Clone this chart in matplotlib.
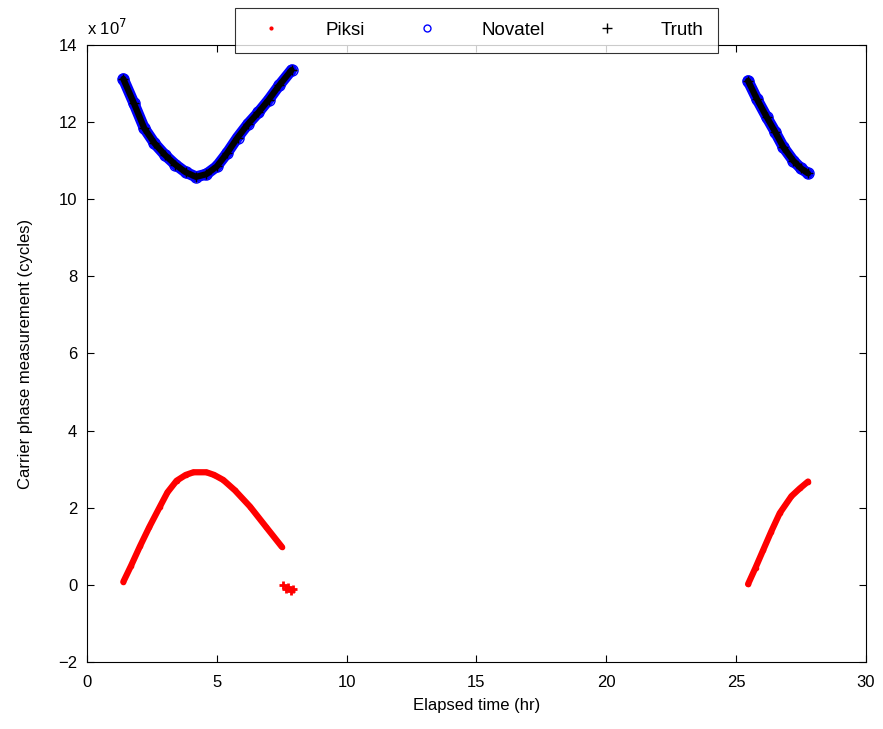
import matplotlib
matplotlib.use('Agg')
import matplotlib.pyplot as plt
from matplotlib.lines import Line2D

plt.rcParams['font.family'] = ['Liberation Sans', 'DejaVu Sans']

# values, carrier phase in units of 1e7 cycles
novatel_t1 = [1.4, 1.8, 2.2, 2.6, 3.0, 3.4, 3.8, 4.2, 4.6, 5.0, 5.4, 5.8, 6.2, 6.6, 7.0, 7.4, 7.88]
novatel_v1 = [13.12, 12.5, 11.85, 11.45, 11.15, 10.9, 10.7, 10.58, 10.65, 10.85, 11.2, 11.6, 11.95, 12.25, 12.58, 12.95, 13.35]
novatel_t2 = [25.46, 25.8, 26.17, 26.5, 26.81, 27.2, 27.5, 27.77]
novatel_v2 = [13.07, 12.6, 12.14, 11.75, 11.36, 11.0, 10.8, 10.67]

piksi_t1 = [1.4, 1.7, 2.04, 2.4, 2.81, 3.1, 3.45, 3.8, 4.1, 4.6, 4.9, 5.25, 5.7, 6.28, 6.9, 7.5]
piksi_v1 = [0.08, 0.5, 1.0, 1.5, 2.03, 2.4, 2.7, 2.85, 2.92, 2.92, 2.85, 2.72, 2.45, 2.03, 1.5, 0.99]
piksi_t_jump = [7.55, 7.65, 7.75, 7.85, 7.92]
piksi_v_jump = [0.0, -0.1, -0.05, -0.15, -0.1]
piksi_t2 = [25.46, 25.75, 26.04, 26.35, 26.68, 27.13, 27.45, 27.77]
piksi_v2 = [0.02, 0.45, 0.90, 1.38, 1.86, 2.30, 2.5, 2.68]

fig = plt.figure(figsize=(8.83, 7.29), dpi=100)
ax = fig.add_axes([0.0985, 0.0919, 0.8822, 0.8464])

# Piksi (red dots)
for t, v in [(piksi_t1, piksi_v1), (piksi_t2, piksi_v2)]:
    ax.plot(t, v, color='red', lw=4.5, marker='.', ms=6, solid_capstyle='round')
ax.plot(piksi_t_jump, piksi_v_jump, color='red', lw=3, marker='+', ms=6, mew=2, ls='none')

# Novatel (blue circles) with Truth (black plus) on top
for t, v in [(novatel_t1, novatel_v1), (novatel_t2, novatel_v2)]:
    ax.plot(t, v, color='blue', lw=8, marker='o', ms=8, mfc='none', solid_capstyle='round')
    ax.plot(t, v, color='black', lw=4.5, marker='+', ms=7, solid_capstyle='round')

ax.set_xlim(0, 30)
ax.set_ylim(-2, 14)
ax.set_xticks(range(0, 31, 5))
ax.set_yticks(range(-2, 15, 2))
ax.tick_params(direction='in', top=True, right=True, labelsize=12, length=5)
ax.tick_params(axis='x', pad=9)
ax.tick_params(axis='y', pad=7)
for s in ax.spines.values():
    s.set_linewidth(0.8)
ax.set_xlabel('Elapsed time (hr)', fontsize=12, labelpad=6)
ax.set_ylabel('Carrier phase measurement (cycles)', fontsize=12, labelpad=18)
ax.text(0.0, 1.012, 'x 10$^{7}$', transform=ax.transAxes, fontsize=12, ha='left', va='bottom')

handles = [
    Line2D([], [], color='red', marker='.', ms=4, ls='none'),
    Line2D([], [], color='blue', marker='o', ms=5, mfc='none', ls='none'),
    Line2D([], [], color='black', marker='+', ms=7, ls='none'),
]
leg = ax.legend(handles, ['Piksi', 'Novatel', 'Truth'], ncol=3, loc='center',
                bbox_to_anchor=(0.5, 1.024), fontsize=13.5, frameon=True, fancybox=False,
                edgecolor='black', handlelength=2.4, columnspacing=2.1, handletextpad=1.7,
                borderpad=0.75)
leg.get_frame().set_linewidth(0.8)

fig.savefig('out.png', dpi=100)
